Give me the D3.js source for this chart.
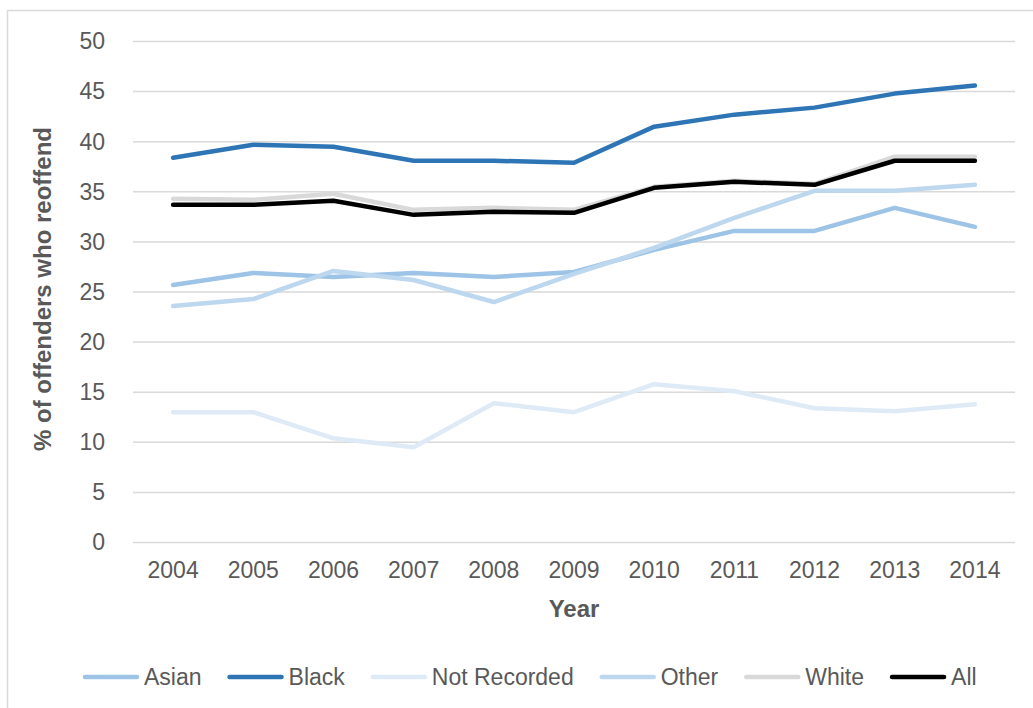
<!DOCTYPE html>
<html>
<head>
<meta charset="utf-8">
<script src="https://cdn.jsdelivr.net/npm/d3@7"></script>
<style>
  html, body { margin: 0; padding: 0; background: #fff; }
  svg { display: block; font-family: "Liberation Sans", Arial, sans-serif; }
</style>
</head>
<body>
<svg id="chart" width="1033" height="708"></svg>
<script>
const years = [2004, 2005, 2006, 2007, 2008, 2009, 2010, 2011, 2012, 2013, 2014];
const yTicks = [0, 5, 10, 15, 20, 25, 30, 35, 40, 45, 50];
const seriesNames = ["Asian", "Black", "Not Recorded", "Other", "White", "All"];
const asian       = [25.7, 26.9, 26.5, 26.9, 26.5, 27.0, 29.2, 31.1, 31.1, 33.4, 31.5];
const black       = [38.4, 39.7, 39.5, 38.1, 38.1, 37.9, 41.5, 42.7, 43.4, 44.8, 45.6];
const notRecorded = [13.0, 13.0, 10.4, 9.5, 13.9, 13.0, 15.8, 15.1, 13.4, 13.1, 13.8];
const other       = [23.6, 24.3, 27.1, 26.2, 24.0, 26.8, 29.4, 32.4, 35.1, 35.1, 35.7];
const white       = [34.3, 34.2, 34.8, 33.2, 33.4, 33.2, 35.5, 36.1, 35.8, 38.5, 38.5];
const all         = [33.7, 33.7, 34.1, 32.7, 33.0, 32.9, 35.4, 36.0, 35.7, 38.1, 38.1];
const colors = ["#9DC3E6", "#2E75B6", "#DEEBF7", "#BDD7EE", "#D9D9D9", "#000000"];

const seriesValues = [asian, black, notRecorded, other, white, all];
const series = seriesNames.map((n, i) => ({ name: n, values: seriesValues[i], color: colors[i] }));

const svg = d3.select("#chart");
const textColor = "#595959";
const gridColor = "#D9D9D9";

// outer chart border
svg.append("rect")
  .attr("x", 7.5).attr("y", 10.5)
  .attr("width", 1200).attr("height", 900)
  .attr("fill", "none").attr("stroke", gridColor).attr("stroke-width", 1.5);

const x = d3.scaleBand().domain(years).range([133, 1015]).padding(0);
const y = d3.scaleLinear().domain([0, 50]).range([542.5, 41.5]);

// gridlines
svg.append("g").selectAll("line").data(yTicks).join("line")
  .attr("x1", 133).attr("x2", 1015)
  .attr("y1", d => y(d)).attr("y2", d => y(d))
  .attr("stroke", gridColor).attr("stroke-width", 1.5);

// y axis labels
const yAxis = d3.axisLeft(y).tickValues(yTicks).tickSize(0).tickPadding(0);
const gy = svg.append("g").attr("transform", "translate(105,0)").call(yAxis);
gy.select(".domain").remove();
gy.selectAll("text")
  .attr("fill", textColor).attr("font-size", "23px")
  .attr("font-family", "Liberation Sans, Arial, sans-serif");

// x axis labels
const xAxis = d3.axisBottom(x).tickSize(0).tickPadding(0);
const gx = svg.append("g").attr("transform", "translate(0,560)").call(xAxis);
gx.select(".domain").remove();
gx.selectAll("text")
  .attr("fill", textColor).attr("font-size", "23px")
  .attr("font-family", "Liberation Sans, Arial, sans-serif")
  .attr("dy", "0.78em");

// axis titles
svg.append("text")
  .attr("x", 574).attr("y", 617)
  .attr("text-anchor", "middle")
  .attr("font-size", "24px").attr("font-weight", "bold")
  .attr("fill", textColor).text("Year");

svg.append("text")
  .attr("transform", "translate(51,289) rotate(-90)")
  .attr("text-anchor", "middle")
  .attr("font-size", "24px").attr("font-weight", "bold")
  .attr("fill", textColor).text("% of offenders who reoffend");

// lines
const line = d3.line()
  .x((d, i) => x(years[i]) + x.bandwidth() / 2)
  .y(d => y(d));

svg.append("g").selectAll("path").data(series).join("path")
  .attr("d", d => line(d.values))
  .attr("fill", "none")
  .attr("stroke", d => d.color)
  .attr("stroke-width", 4.5)
  .attr("stroke-linejoin", "round")
  .attr("stroke-linecap", "round");

// legend
const legend = svg.append("g").attr("transform", "translate(0,677)");
let lx = 83;
series.forEach(s => {
  legend.append("line")
    .attr("x1", lx + 2).attr("x2", lx + 54)
    .attr("y1", 0).attr("y2", 0)
    .attr("stroke", s.color).attr("stroke-width", 4.5)
    .attr("stroke-linecap", "round");
  const t = legend.append("text")
    .attr("x", lx + 61).attr("y", 0).attr("dy", "0.36em")
    .attr("font-size", "23px").attr("fill", textColor)
    .text(s.name);
  const w = t.node().getComputedTextLength();
  lx = lx + 61 + w + 26;
});
</script>
</body>
</html>
